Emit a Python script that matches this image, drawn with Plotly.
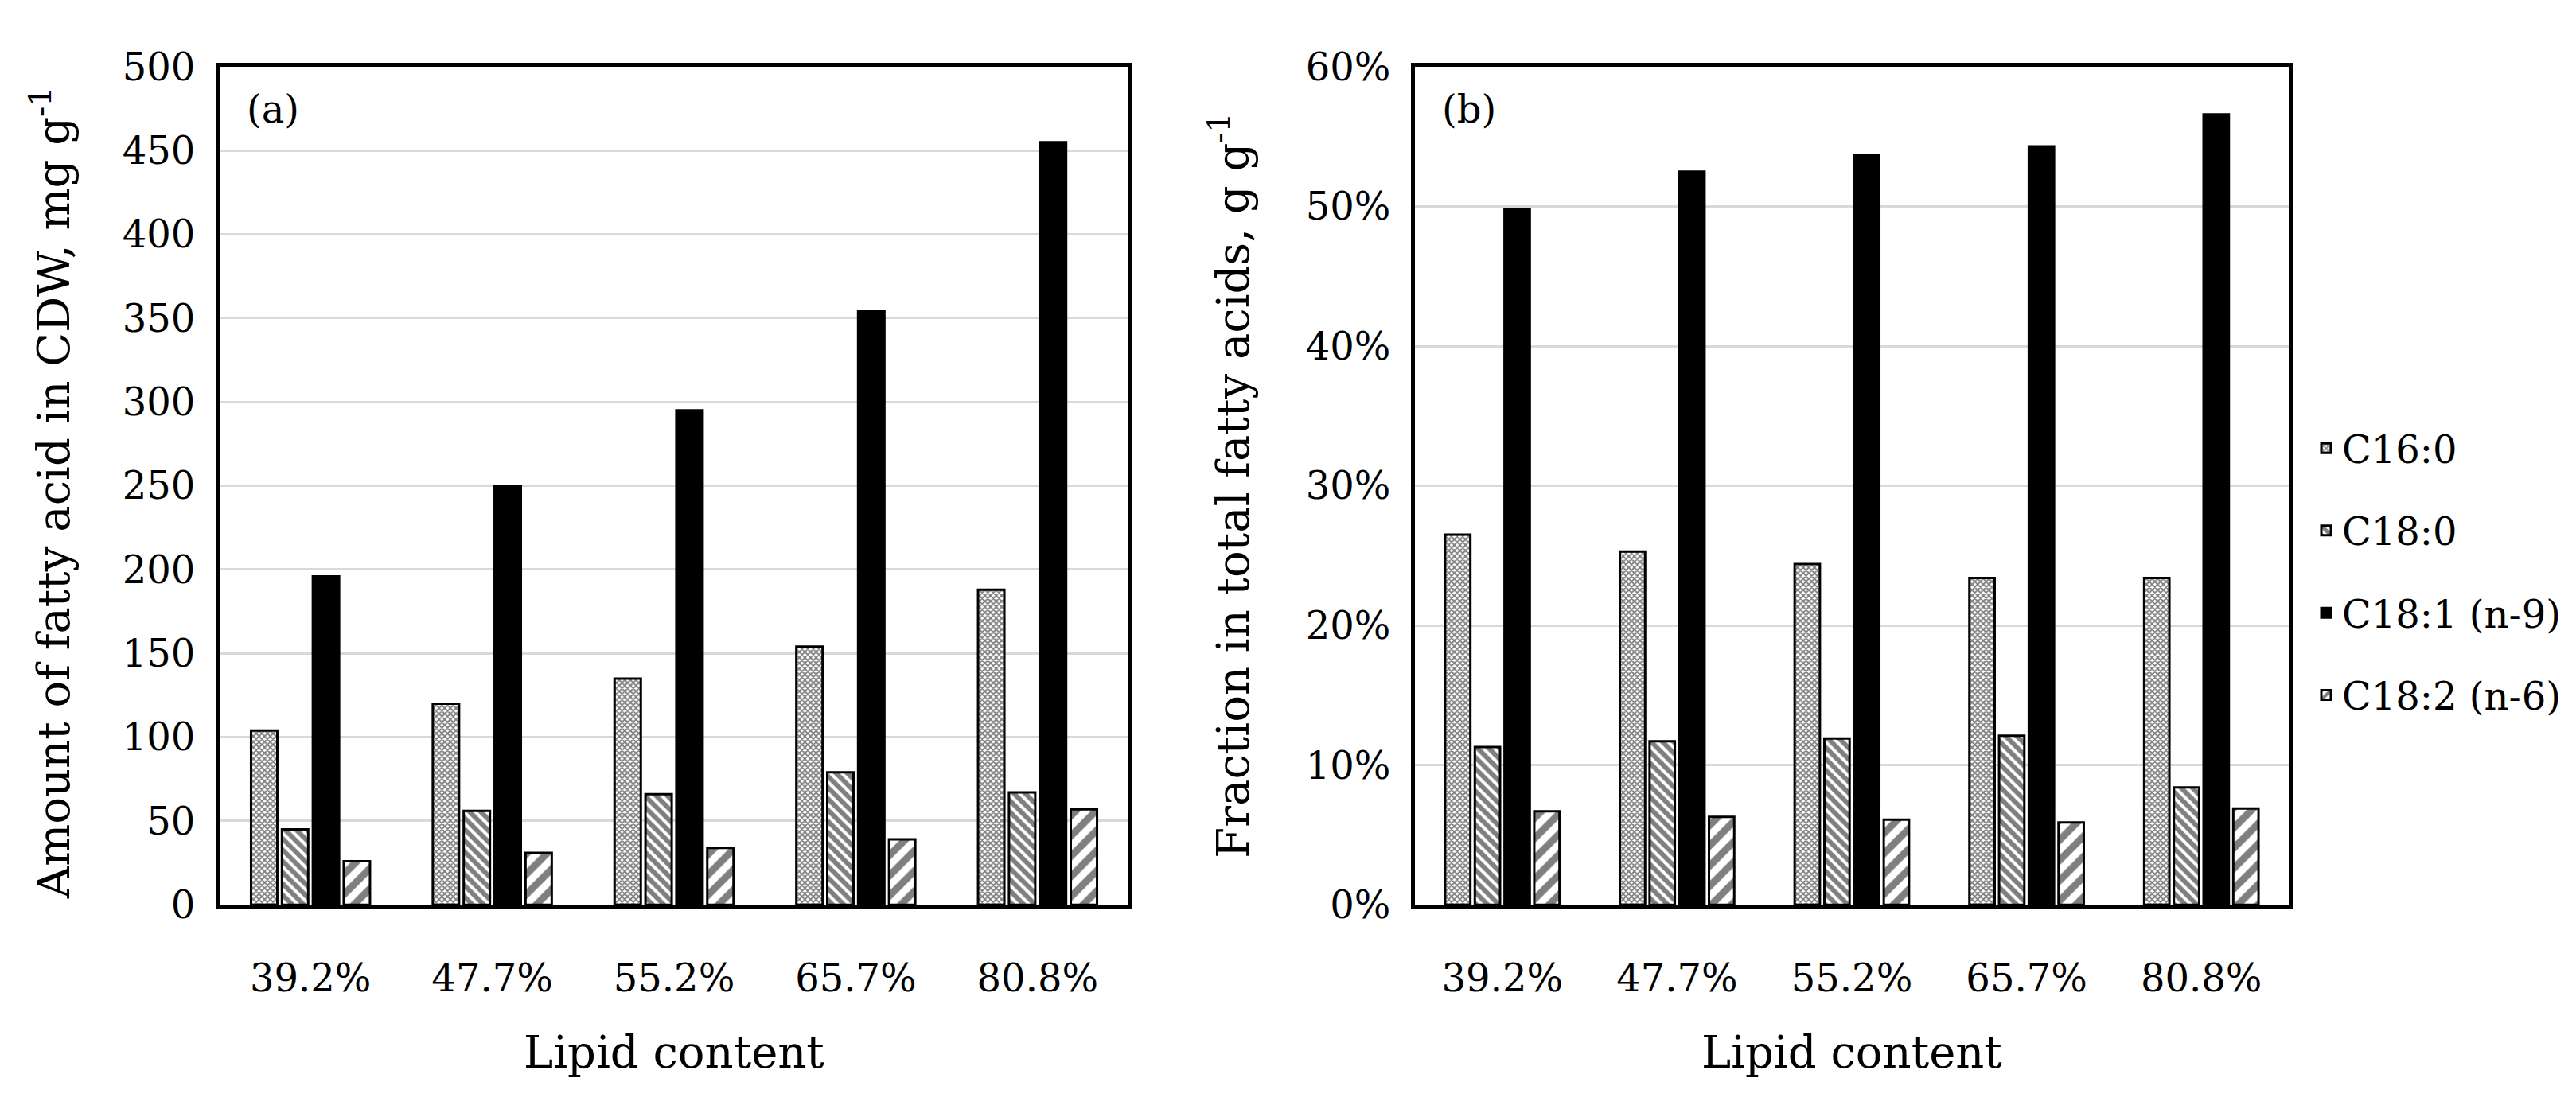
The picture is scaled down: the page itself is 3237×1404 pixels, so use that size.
import plotly.graph_objects as go

# ---- data ----
lipid_content = ["39.2%", "47.7%", "55.2%", "65.7%", "80.8%"]
series_names = ["C16:0", "C18:0", "C18:1 (n-9)", "C18:2 (n-6)"]

# (a) amount of fatty acid in CDW, mg g-1
amount_c16_0 = [104, 120, 135, 154, 188]
amount_c18_0 = [45, 56, 66, 79, 67]
amount_c18_1 = [196, 250, 295, 354, 455]
amount_c18_2 = [26, 31, 34, 39, 57]

# (b) fraction in total fatty acids, g g-1
frac_c16_0 = [0.265, 0.253, 0.244, 0.234, 0.234]
frac_c18_0 = [0.113, 0.117, 0.119, 0.121, 0.084]
frac_c18_1 = [0.498, 0.525, 0.537, 0.543, 0.566]
frac_c18_2 = [0.067, 0.063, 0.061, 0.059, 0.069]

amount_ticks = [0, 50, 100, 150, 200, 250, 300, 350, 400, 450, 500]
frac_ticks = [0, 0.1, 0.2, 0.3, 0.4, 0.5, 0.6]
frac_tick_text = ["0%", "10%", "20%", "30%", "40%", "50%", "60%"]

# ---- styles ----
FONT = "DejaVu Serif"
FS_TICK = 48
FS_TITLE = 56
W, H = 3237, 1404

styles = [
    dict(color="white", line=dict(color="black", width=3),
         pattern=dict(shape="x", size=5, solidity=0.6, fgcolor="black", bgcolor="white")),
    dict(color="white", line=dict(color="black", width=3),
         pattern=dict(shape="\\", size=10, solidity=0.6, fgcolor="black", bgcolor="white")),
    dict(color="black", line=dict(color="black", width=3)),
    dict(color="white", line=dict(color="black", width=3),
         pattern=dict(shape="/", size=18, solidity=0.5, fgcolor="black", bgcolor="white")),
]

amount_series = [amount_c16_0, amount_c18_0, amount_c18_1, amount_c18_2]
frac_series = [frac_c16_0, frac_c18_0, frac_c18_1, frac_c18_2]

fig = go.Figure()
for i, name in enumerate(series_names):
    fig.add_trace(go.Bar(x=lipid_content, y=amount_series[i], name=name,
                         marker=styles[i], xaxis="x", yaxis="y",
                         legendgroup=name, showlegend=True))
for i, name in enumerate(series_names):
    fig.add_trace(go.Bar(x=lipid_content, y=frac_series[i], name=name,
                         marker=styles[i], xaxis="x2", yaxis="y2",
                         legendgroup=name, showlegend=False))

# layout geometry (pixels -> paper)
def px(x):
    return x / W

def py(y):
    return 1 - y / H

L1, R1 = 268, 1410
L2, R2 = 1770, 2868
TOP, BOT = 50, 1147

axis_common = dict(showline=True, mirror=True, linecolor="black", linewidth=5,
                   tickfont=dict(family=FONT, size=FS_TICK, color="black"),
                   zeroline=False, ticks="")

fig.update_layout(
    width=W, height=H,
    margin=dict(l=0, r=0, t=0, b=0),
    paper_bgcolor="white", plot_bgcolor="white",
    barmode="group", bargap=0.32, bargroupgap=0.15,
    font=dict(family=FONT, size=FS_TICK, color="black"),
    xaxis=dict(domain=[px(L1), px(R1)], anchor="y", showgrid=False,
               ticklabelstandoff=46, **axis_common),
    yaxis=dict(domain=[py(BOT), py(TOP)], anchor="x", range=[0, 500],
               tickvals=amount_ticks, showgrid=True, gridcolor="#d9d9d9", gridwidth=3,
               ticklabelstandoff=16, **axis_common),
    xaxis2=dict(domain=[px(L2), px(R2)], anchor="y2", showgrid=False,
                ticklabelstandoff=46, **axis_common),
    yaxis2=dict(domain=[py(BOT), py(TOP)], anchor="x2", range=[0, 0.6],
                tickvals=frac_ticks, ticktext=frac_tick_text,
                showgrid=True, gridcolor="#d9d9d9", gridwidth=3,
                ticklabelstandoff=16, **axis_common),
    legend=dict(x=px(2895), y=py(510), xanchor="left", yanchor="top",
                traceorder="grouped", tracegroupgap=38,
                font=dict(family=FONT, size=FS_TICK, color="black"),
                bgcolor="rgba(0,0,0,0)"),
    showlegend=True,
)

annotations = [
    dict(text="(a)", x=px(300), y=py(105), xref="paper", yref="paper",
         xanchor="left", yanchor="middle", showarrow=False,
         font=dict(family=FONT, size=FS_TICK)),
    dict(text="(b)", x=px(1802), y=py(105), xref="paper", yref="paper",
         xanchor="left", yanchor="middle", showarrow=False,
         font=dict(family=FONT, size=FS_TICK)),
    dict(text="Amount of fatty acid in CDW, mg g<sup>-1</sup>", x=px(56), y=py((TOP + BOT) / 2 + 10),
         xref="paper", yref="paper", xanchor="center", yanchor="middle",
         textangle=-90, showarrow=False, font=dict(family=FONT, size=FS_TITLE)),
    dict(text="Fraction in total fatty acids, g g<sup>-1</sup>", x=px(1538), y=py((TOP + BOT) / 2),
         xref="paper", yref="paper", xanchor="center", yanchor="middle",
         textangle=-90, showarrow=False, font=dict(family=FONT, size=FS_TITLE)),
    dict(text="Lipid content", x=px((L1 + R1) / 2), y=py(1340),
         xref="paper", yref="paper", xanchor="center", yanchor="middle",
         showarrow=False, font=dict(family=FONT, size=FS_TITLE)),
    dict(text="Lipid content", x=px((L2 + R2) / 2), y=py(1340),
         xref="paper", yref="paper", xanchor="center", yanchor="middle",
         showarrow=False, font=dict(family=FONT, size=FS_TITLE)),
]
fig.update_layout(annotations=annotations)

fig.write_html("out.html")
